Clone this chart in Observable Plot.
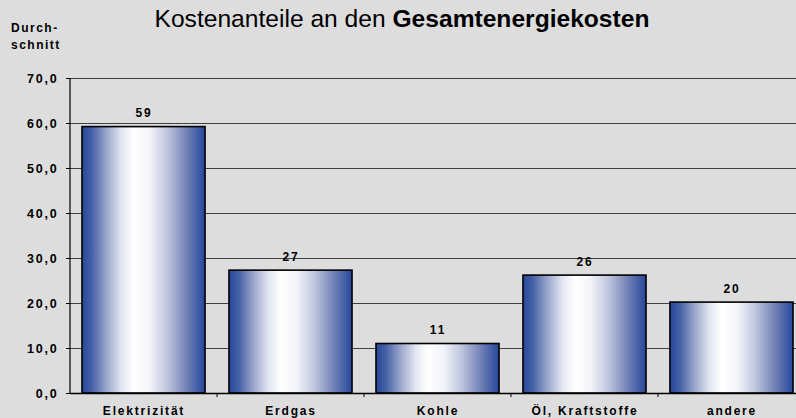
<!DOCTYPE html>
<html>
<head>
<meta charset="utf-8">
<script src="https://cdn.jsdelivr.net/npm/d3@7"></script>
<script src="https://cdn.jsdelivr.net/npm/@observablehq/plot@0.6"></script>
<style>
  html, body { margin: 0; padding: 0; background: #dddddd; }
  #wrap { position: relative; width: 796px; height: 418px; overflow: hidden; background: #dddddd; font-family: "Liberation Sans", Arial, sans-serif; }
  #title { position: absolute; left: 0; width: 804px; top: 5px; text-align: center; font-size: 24.6px; color: #000; white-space: nowrap; }
  #ylab { position: absolute; left: 11px; top: 20px; font-size: 12px; font-weight: bold; letter-spacing: 1.5px; line-height: 17px; color: #000; }
  #wrap svg { position: absolute; left: 0; top: 0; }
  #wrap svg text { letter-spacing: 1.8px; }
</style>
</head>
<body>
<div id="wrap">
  <div id="title">Kostenanteile an den <b>Gesamtenergiekosten</b></div>
  <div id="ylab">Durch-<br>schnitt</div>
</div>
<script>
const categories = ["Elektrizität", "Erdgas", "Kohle", "Öl, Kraftstoffe", "andere"];
const values = [59.2, 27.3, 11.0, 26.2, 20.2];
const valueLabels = ["59", "27", "11", "26", "20"];
const yTicks = [0, 10, 20, 30, 40, 50, 60, 70];

const data = categories.map((c, i) => ({cat: c, value: values[i], label: valueLabels[i]}));

const gradientDefs = () => {
  const defs = d3.create("svg:defs");
  const g = defs.append("linearGradient")
    .attr("id", "barGrad").attr("x1", "0").attr("x2", "1").attr("y1", "0").attr("y2", "0");
  const stops = [
    [0, "#26479a"], [0.08, "#4561a6"], [0.2, "#9aa6cc"], [0.32, "#e2e6f1"],
    [0.42, "#ffffff"], [0.55, "#f3f4f9"], [0.7, "#bcc3dc"], [0.85, "#7282b7"],
    [1, "#26479a"]
  ];
  for (const [o, c] of stops) g.append("stop").attr("offset", o).attr("stop-color", c);
  return defs.node();
};

const axisExtras = (index, scales, values, dims) => {
  const g = d3.create("svg:g");
  const x0 = dims.marginLeft;
  g.append("line").attr("x1", x0).attr("x2", x0)
    .attr("y1", scales.y(0)).attr("y2", scales.y(70))
    .attr("stroke", "black").attr("stroke-width", 1.2);
  const bw = scales.x.bandwidth();
  for (let i = 1; i < categories.length; i++) {
    const prevEnd = scales.x(categories[i - 1]) + bw;
    const xs = (prevEnd + scales.x(categories[i])) / 2;
    g.append("line").attr("x1", xs).attr("x2", xs)
      .attr("y1", scales.y(0)).attr("y2", scales.y(0) + 4)
      .attr("stroke", "black").attr("stroke-width", 1);
  }
  return g.node();
};

const chart = Plot.plot({
  width: 796,
  height: 418,
  marginLeft: 70,
  marginRight: 0,
  marginTop: 78,
  marginBottom: 25,
  style: {background: "transparent", fontFamily: "'Liberation Sans', Arial, sans-serif", color: "black"},
  x: {domain: categories, range: [70, 805], paddingInner: 0.163, paddingOuter: 0.0816, round: false, axis: null},
  y: {domain: [0, 70], axis: null},
  marks: [
    gradientDefs,
    Plot.ruleY(yTicks.filter(d => d > 0), {stroke: "#404040", strokeWidth: 1}),
    Plot.barY(data, {x: "cat", y: "value", fill: "url(#barGrad)", stroke: "black", strokeWidth: 1.6}),
    Plot.ruleY([0], {stroke: "black", strokeWidth: 1.5}),
    Plot.axisY(yTicks, {label: null, tickSize: 4, tickPadding: 8, fontSize: 12.5, fontWeight: "bold",
      tickFormat: d => d.toFixed(1).replace(".", ","), stroke: "black"}),
    axisExtras,
    Plot.text(data, {x: "cat", y: "value", text: "label", dy: -10, lineAnchor: "bottom",
      fontSize: 12, fontWeight: "bold", fill: "black"}),
    Plot.text(data, {x: "cat", y: 0, text: "cat", dy: 21, lineAnchor: "bottom",
      fontSize: 12, fontWeight: "bold", fill: "black", style: "letter-spacing:1.5px"})
  ]
});
document.getElementById("wrap").appendChild(chart);
</script>
</body>
</html>
